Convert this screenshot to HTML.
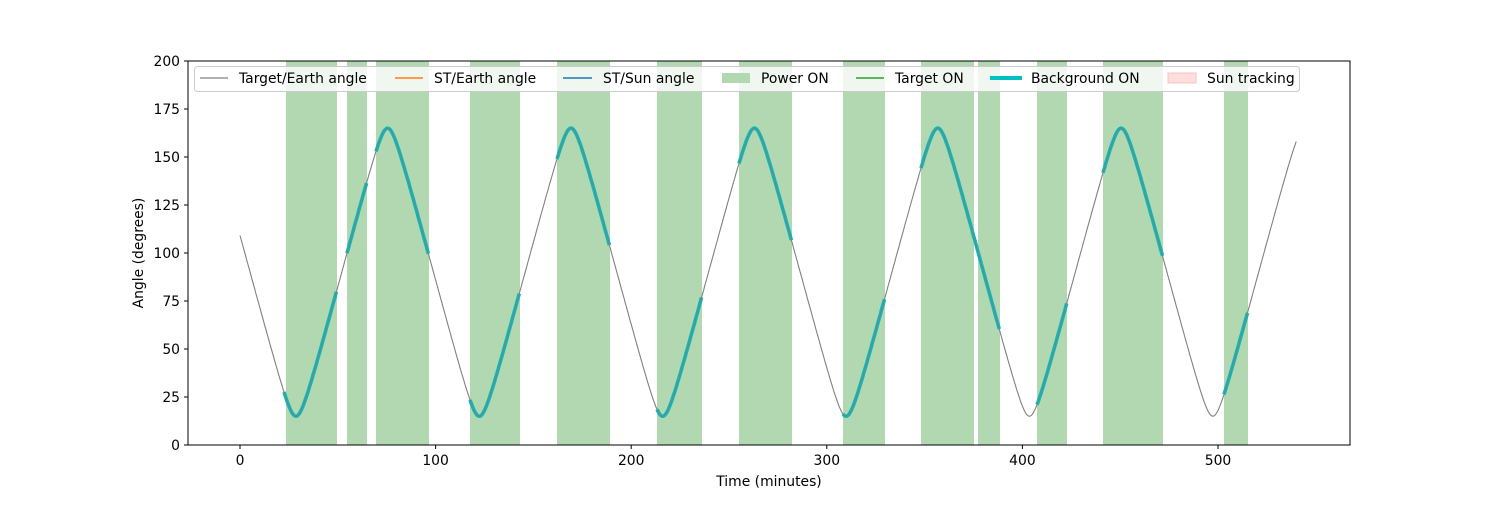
<!DOCTYPE html>
<html><head><meta charset="utf-8"><style>
body{margin:0;background:#fff;}
svg text{font-family:"DejaVu Sans","Liberation Sans",sans-serif;font-size:13.9px;fill:#000;}
</style></head><body>
<svg id="s" width="1500" height="500" xmlns="http://www.w3.org/2000/svg">
<g id="bands" fill="#b2d8b2"></g>
<path id="thick" fill="none" stroke="#00bfbf" stroke-width="3.6"/>
<path id="thin" fill="none" stroke="#808080" stroke-width="1.1"/>
<rect x="188" y="61" width="1162" height="384" fill="none" stroke="#000" stroke-width="1"/>
<g id="ticks" stroke="#000" stroke-width="1"></g>
<g id="labels"></g>
<text x="769" y="486" text-anchor="middle">Time (minutes)</text>
<text transform="translate(143,253) rotate(-90)" text-anchor="middle">Angle (degrees)</text>
<rect x="194.5" y="66.5" width="1105" height="25" rx="3" fill="#fff" fill-opacity="0.8" stroke="#ccc"/>
<line x1="200" y1="78" x2="228" y2="78" stroke="#808080" stroke-width="1.2"/>
<text x="239" y="83">Target/Earth angle</text>
<line x1="395" y1="78" x2="423" y2="78" stroke="#ff7f0e" stroke-width="1.5"/>
<text x="434" y="83">ST/Earth angle</text>
<line x1="563" y1="78" x2="592" y2="78" stroke="#1f77b4" stroke-width="1.5"/>
<text x="603" y="83">ST/Sun angle</text>
<rect x="722" y="73" width="28" height="10" fill="#b2d8b2"/>
<text x="761" y="83">Power ON</text>
<line x1="856" y1="78" x2="884" y2="78" stroke="#2ca02c" stroke-width="1.5"/>
<text x="895" y="83">Target ON</text>
<line x1="990" y1="78" x2="1022" y2="78" stroke="#00bfbf" stroke-width="4"/>
<text x="1031" y="83">Background ON</text>
<rect x="1168" y="73" width="28" height="10" fill="#ffdede" stroke="#ffc0c0"/>
<text x="1207" y="83">Sun tracking</text>
</svg>
<script>
var X=t=>240+t*1.956, Y=a=>445-a*1.92;
function ang(t){var p=2*Math.PI*(t-28.6)/93.75;return Math.acos(0.966*Math.cos(p))*180/Math.PI;}
var bands=[[286,337],[347,367],[376,429],[470,520],[557,610],[657,702],[739,792],[843,885],[921,974],[978,1000],[1037,1067],[1103,1163],[1224,1248]];
var g=document.getElementById('bands'),h='';
bands.forEach(b=>h+='<rect x="'+b[0]+'" y="61" width="'+(b[1]-b[0])+'" height="384"/>');
g.innerHTML=h;
var d='';for(var t=0;t<=540;t+=0.5)d+=(t?'L':'M')+X(t).toFixed(1)+' '+Y(ang(t)).toFixed(1);
document.getElementById('thin').setAttribute('d',d);
var segs=[[284,337],[347,367],[376,429],[470,520],[557,610],[657,702],[739,792],[843,885],[921,1000],[1037,1067],[1103,1163],[1224,1248]];
var d2='';segs.forEach(s=>{var t0=(s[0]-240)/1.956,t1=(s[1]-240)/1.956;for(var t=t0,i=0;t<=t1+0.01;t+=0.4,i++)d2+=(i?'L':'M')+X(t).toFixed(1)+' '+Y(ang(t)).toFixed(1);});
document.getElementById('thick').setAttribute('d',d2);
var tk='',lb='';
for(var v=0;v<=500;v+=100){var x=X(v);tk+='<line x1="'+x+'" y1="445" x2="'+x+'" y2="449"/>';lb+='<text x="'+x+'" y="465" text-anchor="middle">'+v+'</text>';}
for(var a=0;a<=200;a+=25){var y=Y(a);tk+='<line x1="184" y1="'+y+'" x2="188" y2="'+y+'"/>';lb+='<text x="180" y="'+(y+5)+'" text-anchor="end">'+a+'</text>';}
document.getElementById('ticks').innerHTML=tk;document.getElementById('labels').innerHTML=lb;
</script>
</body></html>
